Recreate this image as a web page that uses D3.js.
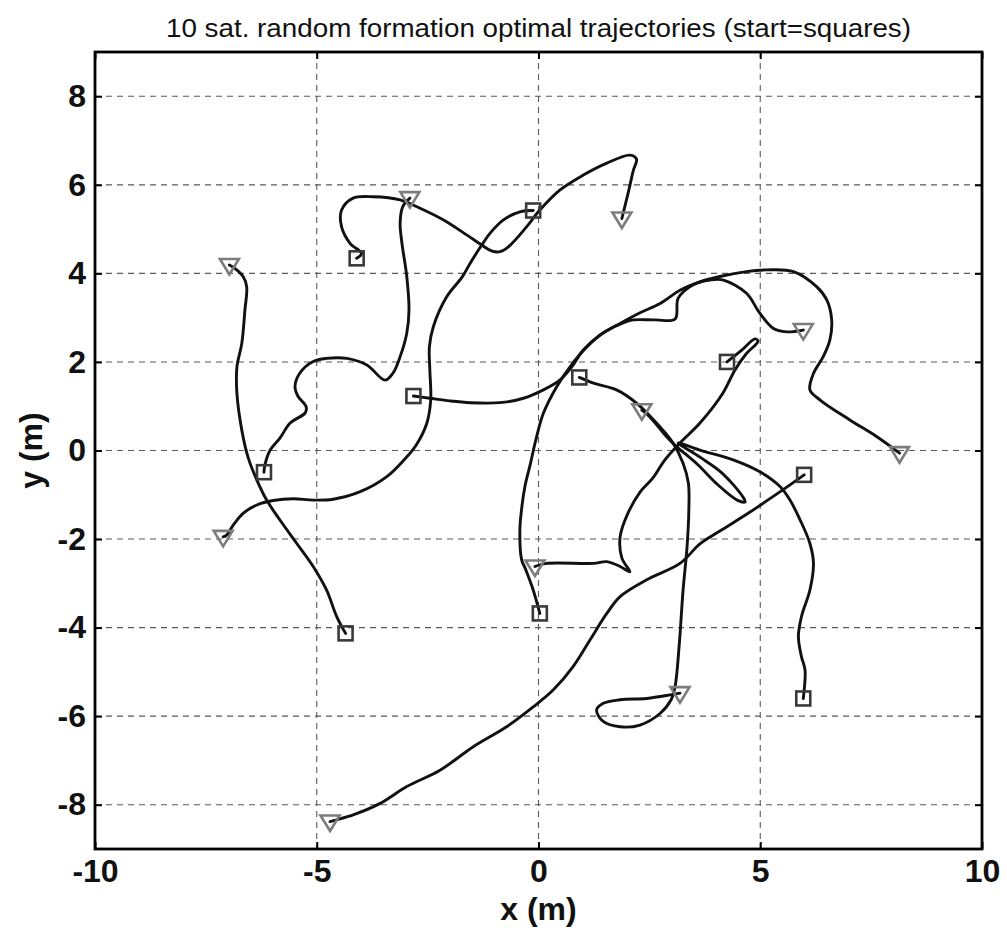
<!DOCTYPE html>
<html>
<head>
<meta charset="utf-8">
<script src="https://cdn.jsdelivr.net/npm/d3@7/dist/d3.min.js"></script>
<style>
  html, body { margin: 0; padding: 0; background: #fff; }
  svg { display: block; }
</style>
</head>
<body>
<svg id="chart" width="1007" height="930"></svg>
<script>
// Ten satellite trajectories, each from its start (square) to its end (triangle), in metres.
const sat1 = [[-4.10,4.34],[-3.99,4.45],[-4.25,4.68],[-4.44,5.05],[-4.44,5.43],[-4.18,5.70],[-3.72,5.73],[-3.12,5.66],[-2.67,5.47],[-2.15,5.21],[-1.62,4.87],[-1.28,4.64],[-1.06,4.51],[-0.87,4.49],[-0.68,4.60],[-0.27,5.05],[0.03,5.43],[0.48,5.88],[1.01,6.22],[1.54,6.49],[2.06,6.67],[2.21,6.58],[2.14,6.33],[2.02,5.81],[1.88,5.24]];
const sat2 = [[-0.12,5.42],[-0.42,5.39],[-0.79,5.21],[-1.09,4.91],[-1.28,4.64],[-1.54,4.23],[-1.72,3.92],[-2.07,3.47],[-2.37,2.80],[-2.46,2.34],[-2.45,1.82],[-2.43,1.14],[-2.52,0.61],[-2.76,0.12],[-3.03,-0.21],[-3.42,-0.59],[-4.02,-0.93],[-4.63,-1.10],[-5.08,-1.12],[-5.53,-1.09],[-5.98,-1.13],[-6.35,-1.23],[-6.66,-1.42],[-6.88,-1.68],[-7.03,-1.91],[-7.11,-1.95]];
const sat3 = [[-6.19,-0.49],[-6.17,-0.33],[-6.05,0.01],[-5.83,0.28],[-5.60,0.62],[-5.26,0.85],[-5.24,0.99],[-5.42,1.22],[-5.49,1.44],[-5.38,1.75],[-5.08,2.01],[-4.78,2.08],[-4.32,2.08],[-3.87,1.93],[-3.46,1.59],[-3.28,1.75],[-3.12,2.12],[-2.97,2.65],[-2.92,3.17],[-2.97,3.93],[-3.08,4.69],[-3.12,5.14],[-3.06,5.51],[-2.90,5.70]];
const sat4 = [[-4.35,-4.13],[-4.55,-3.75],[-4.78,-3.15],[-5.08,-2.62],[-5.45,-2.10],[-5.83,-1.57],[-6.13,-1.12],[-6.35,-0.67],[-6.55,-0.15],[-6.69,0.46],[-6.80,1.29],[-6.80,1.89],[-6.69,2.42],[-6.62,3.17],[-6.58,3.70],[-6.66,3.93],[-6.84,4.11],[-6.97,4.19]];
const sat5 = [[-2.82,1.23],[-2.45,1.18],[-2.00,1.12],[-1.54,1.08],[-0.87,1.08],[-0.34,1.18],[0.11,1.37],[0.48,1.59],[0.75,1.89],[1.01,2.27],[1.39,2.61],[1.84,2.87],[2.29,3.11],[2.74,3.32],[3.19,3.62],[3.64,3.81],[4.09,3.93],[4.69,4.04],[5.15,4.08],[5.75,4.04],[6.27,3.70],[6.50,3.40],[6.61,2.95],[6.57,2.50],[6.42,2.12],[6.20,1.74],[6.12,1.37],[6.35,1.14],[7.02,0.69],[7.63,0.31],[8.14,-0.06]];
const sat6 = [[0.03,-3.68],[-0.12,-3.15],[-0.30,-2.66],[-0.38,-2.47],[-0.42,-1.80],[-0.37,-1.23],[-0.30,-0.78],[-0.19,-0.33],[-0.06,0.24],[0.11,0.84],[0.41,1.44],[0.71,1.89],[1.09,2.34],[1.50,2.68],[1.95,2.90],[2.14,2.95],[2.63,2.95],[3.08,2.97],[3.15,3.44],[3.48,3.74],[3.87,3.85],[4.17,3.85],[4.69,3.55],[4.99,3.10],[5.29,2.76],[5.60,2.68],[5.97,2.72]];
const sat7 = [[4.25,2.00],[4.59,2.27],[4.88,2.52],[4.95,2.47],[4.68,2.18],[4.43,1.82],[4.16,1.30],[3.64,0.62],[3.19,0.17],[2.85,-0.21],[2.58,-0.62],[2.29,-0.94],[2.02,-1.41],[1.84,-1.95],[1.88,-2.43],[2.06,-2.74],[1.84,-2.62],[1.54,-2.51],[1.24,-2.55],[0.18,-2.55],[-0.08,-2.62]];
const sat8 = [[0.92,1.65],[1.24,1.52],[1.76,1.37],[2.21,1.07],[2.67,0.61],[3.04,0.16],[3.26,-0.29],[3.38,-0.74],[3.39,-1.34],[3.35,-2.17],[3.26,-3.15],[3.17,-4.43],[3.08,-5.33],[2.99,-5.63],[2.74,-5.94],[2.29,-6.20],[1.84,-6.24],[1.46,-6.12],[1.31,-5.86],[1.46,-5.71],[1.84,-5.63],[2.44,-5.60],[2.97,-5.52],[3.19,-5.48]];
const sat9 = [[5.97,-5.60],[6.01,-4.96],[5.93,-4.66],[5.86,-4.20],[5.93,-3.75],[6.12,-3.15],[6.20,-2.55],[6.12,-2.10],[5.90,-1.57],[5.67,-1.12],[5.45,-0.82],[4.99,-0.48],[4.39,-0.21],[3.64,0.01],[3.15,0.17],[3.64,-0.15],[4.14,-0.51],[4.61,-1.05],[4.66,-1.16],[4.48,-1.12],[4.05,-0.78],[3.57,-0.30],[3.10,0.10],[2.89,0.31],[2.51,0.76],[2.33,0.91]];
const sat10 = [[5.99,-0.55],[5.45,-0.93],[4.77,-1.39],[4.09,-1.82],[3.64,-2.11],[3.19,-2.55],[2.44,-2.92],[1.84,-3.30],[1.54,-3.68],[1.16,-4.28],[0.78,-4.88],[0.33,-5.41],[-0.12,-5.79],[-0.72,-6.24],[-1.47,-6.69],[-2.22,-7.22],[-2.97,-7.59],[-3.57,-7.97],[-4.18,-8.23],[-4.55,-8.34],[-4.70,-8.38]];

const trajectories = [sat1, sat2, sat3, sat4, sat5, sat6, sat7, sat8, sat9, sat10];

// Axis ticks and grid positions
const xTicks = [-10, -5, 0, 5, 10];
const yTicks = [-8, -6, -4, -2, 0, 2, 4, 6, 8];
const xGrid = [-5, 0, 5];
const yGrid = [-8, -6, -4, -2, 0, 2, 4, 6, 8];

const titleText = "10 sat. random formation optimal trajectories (start=squares)";
const xLabel = "x (m)";
const yLabel = "y (m)";

const svg = d3.select("#chart");
const plotLeft = 95, plotRight = 982, plotTop = 52, plotBottom = 849;
const fontFamily = "'Liberation Sans', Arial, Helvetica, sans-serif";

const x = d3.scaleLinear().domain([-10, 10]).range([plotLeft, plotRight]);
const y = d3.scaleLinear().domain([-9, 9]).range([plotBottom, plotTop]);

// Dashed grid
const grid = svg.append("g").attr("stroke", "#5a5a5a").attr("stroke-width", 1.1)
  .attr("stroke-dasharray", "6,5");
grid.selectAll("line.gx").data(xGrid).join("line").attr("class", "gx")
  .attr("x1", d => x(d)).attr("x2", d => x(d)).attr("y1", plotTop).attr("y2", plotBottom);
grid.selectAll("line.gy").data(yGrid).join("line").attr("class", "gy")
  .attr("y1", d => y(d)).attr("y2", d => y(d)).attr("x1", plotLeft).attr("x2", plotRight);

// Trajectories
const line = d3.line().x(d => x(d[0])).y(d => y(d[1])).curve(d3.curveCatmullRom.alpha(0.5));
svg.append("g").selectAll("path").data(trajectories).join("path")
  .attr("d", line).attr("fill", "none").attr("stroke", "#111")
  .attr("stroke-width", 2.9).attr("stroke-linejoin", "round").attr("stroke-linecap", "round");

// Start markers (squares)
const sq = 14;
svg.append("g").selectAll("rect").data(trajectories).join("rect")
  .attr("x", d => x(d[0][0]) - sq / 2).attr("y", d => y(d[0][1]) - sq / 2)
  .attr("width", sq).attr("height", sq)
  .attr("fill", "none").attr("stroke", "#3a3a3a").attr("stroke-width", 2.6);

// End markers (downward triangles)
svg.append("g").selectAll("path").data(trajectories).join("path")
  .attr("d", d => {
    const e = d[d.length - 1];
    const cx = x(e[0]), cy = y(e[1]);
    return `M${cx - 9.5},${cy - 6}L${cx + 9.5},${cy - 6}L${cx},${cy + 9.5}Z`;
  })
  .attr("fill", "none").attr("stroke", "#7c7c7c").attr("stroke-width", 2.6)
  .attr("stroke-linejoin", "miter");

// Axes with inward ticks on all four sides
const fmt = d => String(d);
const tickLen = 7;
const axB = svg.append("g").attr("transform", `translate(0,${plotBottom})`)
  .call(d3.axisBottom(x).tickValues(xTicks).tickFormat(fmt).tickSizeInner(-tickLen).tickSizeOuter(0).tickPadding(10));
const axL = svg.append("g").attr("transform", `translate(${plotLeft},0)`)
  .call(d3.axisLeft(y).tickValues(yTicks).tickFormat(fmt).tickSizeInner(-tickLen).tickSizeOuter(0).tickPadding(9));
const axT = svg.append("g").attr("transform", `translate(0,${plotTop})`)
  .call(d3.axisTop(x).tickValues(xTicks).tickFormat("").tickSizeInner(-tickLen).tickSizeOuter(0));
const axR = svg.append("g").attr("transform", `translate(${plotRight},0)`)
  .call(d3.axisRight(y).tickValues(yTicks).tickFormat("").tickSizeInner(-tickLen).tickSizeOuter(0));

[axB, axL, axT, axR].forEach(a => {
  a.select(".domain").remove();
  a.selectAll(".tick line").attr("stroke", "#000").attr("stroke-width", 2);
  a.selectAll(".tick text").attr("fill", "#111")
    .style("font-family", fontFamily)
    .style("font-weight", "bold").style("font-size", "32px");
});

// Plot frame
svg.append("rect").attr("x", plotLeft).attr("y", plotTop)
  .attr("width", plotRight - plotLeft).attr("height", plotBottom - plotTop)
  .attr("fill", "none").attr("stroke", "#000").attr("stroke-width", 2.8);

// Title and axis labels
svg.append("text").attr("x", (plotLeft + plotRight) / 2).attr("y", 37)
  .attr("text-anchor", "middle")
  .attr("textLength", 745).attr("lengthAdjust", "spacingAndGlyphs")
  .style("font-family", fontFamily)
  .style("font-size", "25px").attr("fill", "#111").text(titleText);

svg.append("text").attr("x", (plotLeft + plotRight) / 2).attr("y", 920)
  .attr("text-anchor", "middle")
  .style("font-family", fontFamily)
  .style("font-weight", "bold").style("font-size", "32px").attr("fill", "#111").text(xLabel);

svg.append("text").attr("transform", `translate(42,${(plotTop + plotBottom) / 2}) rotate(-90)`)
  .attr("text-anchor", "middle")
  .style("font-family", fontFamily)
  .style("font-weight", "bold").style("font-size", "32px").attr("fill", "#111").text(yLabel);
</script>
</body>
</html>
